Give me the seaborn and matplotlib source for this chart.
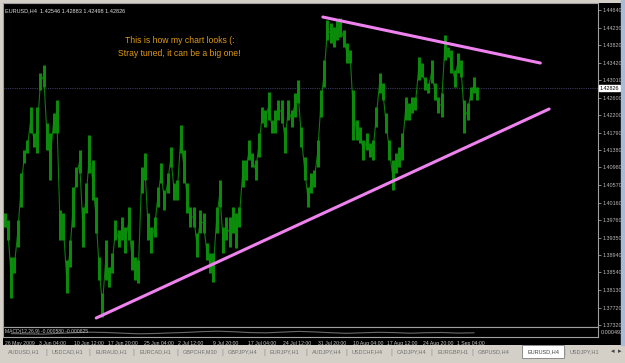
import numpy as np
import pandas as pd
import matplotlib
matplotlib.use('Agg')
import matplotlib.pyplot as plt
import seaborn as sns

# EURUSD H4 price path, high/low per sample (left -> right)
highs = [1.39922, 1.39760, 1.38900, 1.38900, 1.39760, 1.40852, 1.41386, 1.41619, 1.42386, 1.41781,
         1.42386, 1.43176, 1.43362, 1.42014, 1.41781, 1.42246, 1.42548, 1.39992, 1.39922, 1.38830,
         1.39295, 1.40527, 1.40991, 1.41386, 1.40062, 1.40620, 1.41735, 1.41154, 1.40294, 1.38900,
         1.38063, 1.39295, 1.38667, 1.38993, 1.39760, 1.39527, 1.39829, 1.39597, 1.40062, 1.39295,
         1.38900, 1.38830, 1.40991, 1.41317, 1.39922, 1.39597, 1.39829, 1.40527, 1.41084, 1.40457,
         1.40852, 1.41456, 1.40620, 1.40689, 1.41967, 1.41386, 1.40620, 1.40062, 1.40062, 1.39457,
         1.39992, 1.39922, 1.39225, 1.38993, 1.38993, 1.40062, 1.40689, 1.39597, 1.39829, 1.39829,
         1.40062, 1.39922, 1.40062, 1.41154, 1.41154, 1.41619, 1.41317, 1.41154, 1.41781, 1.42386,
         1.42316, 1.42734, 1.42084, 1.42316, 1.42548, 1.42548, 1.41921, 1.42548, 1.42316, 1.42711,
         1.43013, 1.41921, 1.41224, 1.40527, 1.40852, 1.40922, 1.41619, 1.42781, 1.43478, 1.44408,
         1.44338, 1.44245, 1.44408, 1.44454, 1.44175, 1.43873, 1.43710, 1.42781, 1.42084, 1.41921,
         1.41619, 1.41781, 1.41549, 1.41619, 1.42386, 1.43176, 1.42943, 1.42246, 1.41619, 1.41154,
         1.41317, 1.41456, 1.41781, 1.42618, 1.42479, 1.42618, 1.42618, 1.43548, 1.43408, 1.43083,
         1.42943, 1.43478, 1.42943, 1.42618, 1.42711, 1.44059, 1.43780, 1.43710, 1.43246, 1.43641,
         1.43478, 1.42548, 1.42479, 1.42850, 1.43083, 1.42850]
lows = [1.39597, 1.39295, 1.37947, 1.38528, 1.39132, 1.40062, 1.41084, 1.41317, 1.41781, 1.41456,
        1.41317, 1.42781, 1.42850, 1.41386, 1.40689, 1.41781, 1.41781, 1.39295, 1.39295, 1.38063,
        1.38667, 1.39597, 1.40527, 1.40852, 1.39132, 1.39922, 1.40852, 1.40224, 1.39457, 1.38365,
        1.37505, 1.38365, 1.38203, 1.38528, 1.39295, 1.39132, 1.39295, 1.38993, 1.39295, 1.38598,
        1.38365, 1.38296, 1.40387, 1.40689, 1.39295, 1.38993, 1.39364, 1.40062, 1.40620, 1.39992,
        1.40387, 1.40991, 1.40224, 1.40224, 1.41317, 1.40620, 1.39922, 1.39597, 1.39597, 1.38900,
        1.39457, 1.39457, 1.38830, 1.38528, 1.38319, 1.39457, 1.40062, 1.38993, 1.39295, 1.39132,
        1.39457, 1.39109, 1.39597, 1.40527, 1.40689, 1.41154, 1.40991, 1.40689, 1.41224, 1.42014,
        1.41921, 1.42084, 1.41781, 1.41781, 1.42084, 1.42014, 1.41317, 1.42084, 1.41921, 1.42153,
        1.42479, 1.41456, 1.40689, 1.40062, 1.40387, 1.40527, 1.40991, 1.42153, 1.42850, 1.43943,
        1.43873, 1.43780, 1.43943, 1.44013, 1.43780, 1.43408, 1.43408, 1.41619, 1.41619, 1.41549,
        1.41154, 1.41386, 1.41224, 1.41154, 1.41921, 1.42711, 1.42548, 1.41781, 1.41154, 1.40457,
        1.40852, 1.40991, 1.41154, 1.42084, 1.42084, 1.42246, 1.42316, 1.43013, 1.43083, 1.42781,
        1.42711, 1.42943, 1.42548, 1.42246, 1.42153, 1.43478, 1.43548, 1.43176, 1.42850, 1.43176,
        1.43083, 1.41781, 1.42084, 1.42548, 1.42711, 1.42548]

# MACD main line (subwindow), rough
macd = [-0.6, -0.9, -1.1, -0.4, 0.3, 0.8, 0.5, -0.2, -0.8, -0.5, 0.1, 0.6, 1.4, 1.8, 1.2,
        0.4, 0.2, 0.9, 1.6, 1.1, 0.3, -0.3, 0.2, 0.7, 0.4, -0.2, 0.3, 0.5, -0.1, 0.2]

# trend lines drawn on the chart: (bar, price)
upper_line = [(97.6, 1.44477), (164.3, 1.43408)]
lower_line = [(28.1, 1.37482), (167.0, 1.42339)]

price_ticks = [1.44640, 1.44230, 1.43820, 1.43420, 1.43010, 1.42600, 1.42200, 1.41790,
               1.41380, 1.40980, 1.40570, 1.40160, 1.39760, 1.39350, 1.38940, 1.38540,
               1.38130, 1.37720, 1.37320]
date_labels = ['26 May 2009', '3 Jun 04:00', '10 Jun 12:00', '17 Jun 20:00', '25 Jun 04:00',
               '2 Jul 12:00', '9 Jul 20:00', '17 Jul 04:00', '24 Jul 12:00', '31 Jul 20:00',
               '10 Aug 04:00', '17 Aug 12:00', '24 Aug 20:00', '1 Sep 04:00']
date_bars = [0, 10.4, 21.4, 31.8, 42.8, 53.2, 63.9, 74.6, 85.3, 96.0, 107.0, 117.4, 128.2, 138.9]

tabs = ['AUDUSD,H1', 'USDCAD,H1', 'EURAUD,H1', 'EURCAD,H1', 'GBPCHF,M30', 'GBPJPY,H4', 'EURJPY,H1',
        'AUDJPY,H4', 'USDCHF,H4', 'CADJPY,H4', 'EURGBP,H1', 'GBPUSD,H4', 'EURUSD,H4', 'USDJPY,H1']
tab_x = [8, 52, 95, 139, 183, 228, 270, 312, 352, 397, 437, 478, 527, 570]

last_price = 1.42826
header = 'EURUSD,H4  1.42546 1.42883 1.42498 1.42826'

df = pd.DataFrame({'bar': np.arange(len(highs)), 'high': highs, 'low': lows})
df['mid'] = (df['high'] + df['low']) / 2

sns.set_style('dark')
plt.rcParams['font.family'] = ['Liberation Sans', 'DejaVu Sans']

W, H = 625, 363
fig = plt.figure(figsize=(W / 100, H / 100), dpi=100, facecolor='#d4d0c8')

def frac(x0, y0, x1, y1):
    return [x0 / W, 1 - y1 / H, (x1 - x0) / W, (y1 - y0) / H]

# black chart window
bg = fig.add_axes(frac(3, 3, 621, 345))
bg.set_facecolor('black')
bg.set_xticks([]); bg.set_yticks([])
for s in bg.spines.values():
    s.set_visible(False)
fig.patches.append(plt.Rectangle((621 / W, 1 - 345 / H), 4 / W, 345 / H,
                                 transform=fig.transFigure, color='#a6bcd8', zorder=0))

xlim = (-0.5, 182)

ax = fig.add_axes(frac(3, 3, 598, 327))
ax.set_facecolor('black')
ax.set_xlim(*xlim)
ax.set_ylim(1.37273, 1.44803)

ax.vlines(df['bar'], df['low'], df['high'], color='#0b8f0b', lw=2.1, zorder=2)
sns.lineplot(data=df, x='bar', y='mid', ax=ax, color='#0a7d0a', lw=0.8, zorder=1)

ax.axhline(last_price, color='#3a3a5a', lw=0.8, ls=(0, (1, 1)), zorder=0)

for line in (upper_line, lower_line):
    tl = pd.DataFrame(line, columns=['bar', 'price'])
    sns.lineplot(data=tl, x='bar', y='price', ax=ax, color='#ee82ee', lw=2.2, zorder=3)

ax.set_xlim(*xlim)
ax.yaxis.tick_right()
ax.set_yticks(price_ticks)
ax.set_yticklabels([f'{p:.5f}' for p in price_ticks])
ax.tick_params(axis='y', colors='#b8b8b8', labelsize=3.9, length=2, width=0.5, pad=1)
ax.set_xticks([])
ax.set_xlabel(''); ax.set_ylabel('')
ax.grid(False)
for s in ax.spines.values():
    s.set_color('#a0a0a0'); s.set_linewidth(0.8)

ax.text(1.003, last_price, f'{last_price:.5f}', transform=ax.get_yaxis_transform(),
        fontsize=3.9, color='black', va='center', ha='left',
        bbox=dict(boxstyle='square,pad=0.15', fc='white', ec='white'))

ax.text(0.004, 0.985, header, transform=ax.transAxes, fontsize=4, color='#e0e0e0',
        va='top', ha='left')
ax.text(0.297, 0.885, 'This is how my chart looks (:', transform=ax.transAxes,
        fontsize=6.2, color='#e09a10', ha='center', va='center')
ax.text(0.297, 0.845, 'Stray tuned, it can be a big one!', transform=ax.transAxes,
        fontsize=6.2, color='#e09a10', ha='center', va='center')

# MACD subwindow
mx = fig.add_axes(frac(3, 327, 598, 337))
mx.set_facecolor('black')
mpos = np.linspace(2, len(highs) - 2, len(macd))
sns.lineplot(x=mpos, y=macd, ax=mx, color='#6a6a6a', lw=0.8)
mx.set_xlim(*xlim)
mx.set_ylim(-4, 6)
mx.set_yticks([])
mx.grid(False)
for s in mx.spines.values():
    s.set_color('#a0a0a0'); s.set_linewidth(0.8)
mx.text(0.003, 0.5, 'MACD(12,26,9) -0.000580 -0.000825', transform=mx.transAxes,
        fontsize=3.6, color='#c8c8c8', va='center', ha='left')
mx.text(1.005, 0.4, '0.000492', transform=mx.transAxes, fontsize=3.9, color='#c8c8c8',
        va='center', ha='left')
mx.set_xticks(date_bars)
mx.set_xticklabels(date_labels, ha='left')
mx.tick_params(axis='x', colors='#c8c8c8', labelsize=3.7, length=2, width=0.5, pad=1)
mx.set_xlabel(''); mx.set_ylabel('')

# symbol tabs
ty = 1 - 352 / H
for name, x in zip(tabs, tab_x):
    if name == 'EURUSD,H4':
        fig.patches.append(plt.Rectangle((522 / W, 1 - 358 / H), 42 / W, 13 / H,
                                         transform=fig.transFigure, fc='white', ec='#808080', lw=0.6))
        fig.text(x / W, ty, name, fontsize=4, color='#404040', va='center', ha='left')
    else:
        fig.text(x / W, ty, name, fontsize=4, color='#707070', va='center', ha='left')
        if x > 10:
            fig.text((x - 6) / W, ty, '|', fontsize=5, color='#909090', va='center', ha='center')
fig.text(613 / W, ty, '\u25c2', fontsize=5, color='#404040', va='center', ha='center')
fig.text(620 / W, ty, '\u25b8', fontsize=5, color='#404040', va='center', ha='center')

fig.savefig('out.png', dpi=100, facecolor=fig.get_facecolor())
